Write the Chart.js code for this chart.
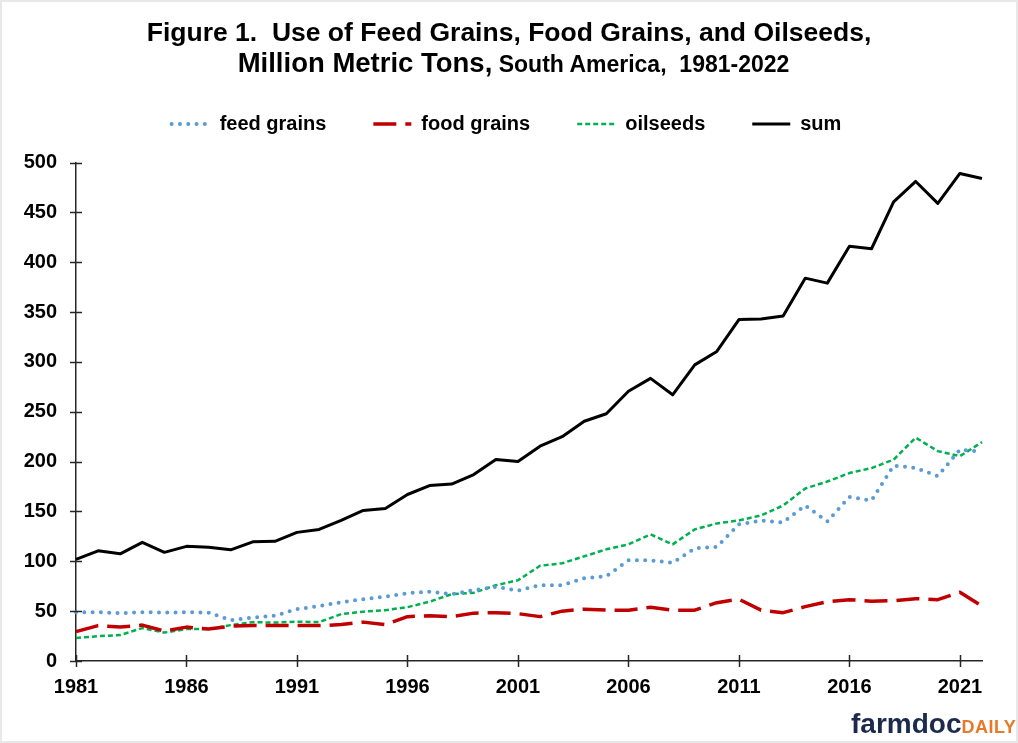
<!DOCTYPE html>
<html>
<head>
<meta charset="utf-8">
<title>Use of Feed Grains, Food Grains, and Oilseeds, South America, 1981-2022</title>
<script src="https://cdn.jsdelivr.net/npm/chart.js@4.4.1/dist/chart.umd.min.js"></script>
<style>
  html, body { margin: 0; padding: 0; background: #fff; }
  .figure {
    position: relative;
    width: 1018px;
    height: 743px;
    overflow: hidden;
    font-family: "Liberation Sans", Arial, sans-serif;
  }
  .figure canvas { position: absolute; left: 0; top: 0; }
  .frame {
    position: absolute;
    left: 0; top: 0; right: 0; bottom: 0;
    border: 2px solid #e8e8e8;
    pointer-events: none;
  }
  .title {
    position: absolute;
    top: 17px;
    left: 0;
    width: 1018px;
    text-align: center;
    font-weight: bold;
    color: #000;
  }
  .title .l1, .title .l2 { white-space: pre; }
  .title .l1 { font-size: 26.5px; line-height: 30px; }
  .title .l2 { line-height: 31px; padding-left: 9px; }
  .title .big { font-size: 27.5px; }
  .title .small { font-size: 23px; }
  .logo {
    position: absolute;
    left: 851px;
    top: 710px;
    line-height: 28px;
    font-weight: bold;
    white-space: nowrap;
  }
  .logo .farm { font-size: 28px; color: #1d2a4d; }
  .logo .daily { font-size: 18px; color: #e8782a; letter-spacing: 0.5px; }
</style>
</head>
<body>
<div class="figure">
  <canvas id="useChart" width="1018" height="743"></canvas>
  <div class="title">
    <div class="l1">Figure 1.  Use of Feed Grains, Food Grains, and Oilseeds,</div>
    <div class="l2"><span class="big">Million Metric Tons,</span><span class="small"> South America,  1981-2022</span></div>
  </div>
  <div class="logo"><span class="farm">farmdoc</span><span class="daily">DAILY</span></div>
  <div class="frame"></div>
</div>
<script>
// Marketing years, one point per year
const years = [
  1981, 1982, 1983, 1984, 1985, 1986, 1987, 1988, 1989, 1990,
  1991, 1992, 1993, 1994, 1995, 1996, 1997, 1998, 1999, 2000,
  2001, 2002, 2003, 2004, 2005, 2006, 2007, 2008, 2009, 2010,
  2011, 2012, 2013, 2014, 2015, 2016, 2017, 2018, 2019, 2020,
  2021, 2022
];

// Use, million metric tons
const feedGrains = [
  49, 49, 48, 49, 48.5, 49, 48.5, 41, 43.5, 45.5,
  52, 55, 59, 62, 64.5, 68, 69.5, 67, 71, 74.5,
  70.5, 76, 76, 83, 85, 101, 101, 98.5, 113, 114.5,
  137, 141, 139, 156, 140, 164.5, 161, 196, 193.5, 185.5,
  212, 210
];

const foodGrains = [
  29.5, 35.5, 34, 36, 30, 34, 32, 35, 35.5, 35.5,
  35.5, 35.5, 36.5, 39, 36.5, 44.5, 45.5, 44.5, 48, 48.5,
  47.5, 44.5, 50, 52, 51, 51, 54, 51, 51, 58.5,
  62, 51, 48.5, 54.5, 59.5, 61.5, 60, 60.5, 62.5, 61.5,
  69, 55
];

const oilseeds = [
  23, 25, 26, 33, 28.5, 32, 32, 36, 39, 38.5,
  39.5, 39, 47, 49.5, 51, 54, 59.5, 67, 68.5, 76,
  81, 95.5, 98, 105, 112, 117, 127, 117, 132, 138,
  141, 146, 156, 173, 180, 188.5, 193.5, 202, 224, 210.5,
  205.5, 219.5
];

const totalUse = [
  102, 110.5, 107.5, 119, 109, 115, 114, 111.5, 119.5, 120,
  129, 132, 141, 151, 153, 167, 176, 177.5, 187, 202,
  200, 215.5, 225, 240.5, 248, 270.5, 283.5, 267, 297, 310.5,
  342.5, 343, 346, 384, 379, 416, 413.5, 460.5, 481, 459,
  489, 484
];

const yTicks = [0, 50, 100, 150, 200, 250, 300, 350, 400, 450, 500];
const labelEvery = 5;

const axisColor = '#262626';
const fontFamily = '"Liberation Sans", Arial, sans-serif';

Chart.defaults.font.family = fontFamily;
Chart.defaults.color = '#000';

// Tick marks that straddle the axis line, only where a label is shown
const crossTicks = {
    id: 'crossTicks',
    afterDraw(chart) {
        const { ctx, chartArea, scales } = chart;
        const x = scales.x;
        const y = scales.y;
        ctx.save();
        ctx.strokeStyle = axisColor;
        ctx.lineWidth = 1.5;
        ctx.beginPath();
        x.ticks.forEach((tick, i) => {
            if (tick.label == null) return;
            const px = Math.round(x.getPixelForTick(i)) + 0.5;
            ctx.moveTo(px, chartArea.bottom - 6);
            ctx.lineTo(px, chartArea.bottom + 6);
        });
        y.ticks.forEach((tick, i) => {
            const py = Math.round(y.getPixelForTick(i)) + 0.5;
            ctx.moveTo(chartArea.left - 6, py);
            ctx.lineTo(chartArea.left + 6, py);
        });
        ctx.stroke();
        ctx.restore();
    }
};

// Legend row: extra room below it, and nudged right so it sits over the plot
const legendSpacing = {
    id: 'legendSpacing',
    beforeInit(chart) {
        const fit = chart.legend.fit;
        chart.legend.fit = function() {
            fit.call(this);
            this.height += 18.5;
        };
    },
    afterLayout(chart) {
        chart.legend.left += 31;
    }
};

// Legend samples take the dash, width and cap of each line
function lineLegendItems(chart) {
    return chart.data.datasets.map((ds, i) => ({
        text: ds.label,
        datasetIndex: i,
        fillStyle: ds.borderColor,
        strokeStyle: ds.borderColor,
        fontColor: '#000',
        lineWidth: ds.borderWidth,
        lineDash: ds.borderDash || [],
        lineCap: ds.borderCapStyle || 'butt',
        pointStyle: 'line',
        hidden: false
    }));
}

const ctx = document.getElementById('useChart').getContext('2d');

new Chart(ctx, {
    type: 'line',
    data: {
        labels: years,
        datasets: [
            {
                label: 'feed grains',
                data: feedGrains,
                borderColor: '#5B9BD5',
                borderWidth: 4,
                borderDash: [0, 8.3],
                borderCapStyle: 'round'
            },
            {
                label: 'food grains',
                data: foodGrains,
                borderColor: '#C00000',
                borderWidth: 3.5,
                borderDash: [23, 9]
            },
            {
                label: 'oilseeds',
                data: oilseeds,
                borderColor: '#00B050',
                borderWidth: 2.5,
                borderDash: [5, 3]
            },
            {
                label: 'sum',
                data: totalUse,
                borderColor: '#000',
                borderWidth: 3
            }
        ]
    },
    options: {
        responsive: false,
        animation: false,
        events: [],
        layout: {
            padding: { left: 0, right: 36, top: 67, bottom: 40 }
        },
        elements: {
            point: { radius: 0, hoverRadius: 0 },
            line: { tension: 0, borderJoinStyle: 'round', fill: false }
        },
        plugins: {
            legend: {
                position: 'top',
                labels: {
                    usePointStyle: true,
                    pointStyleWidth: 38,
                    padding: 47,
                    color: '#000',
                    font: { size: 20, weight: 'bold' },
                    generateLabels: lineLegendItems
                }
            },
            tooltip: { enabled: false }
        },
        scales: {
            x: {
                type: 'category',
                offset: false,
                grid: { display: false },
                border: { display: true, color: axisColor, width: 1.5 },
                ticks: {
                    autoSkip: false,
                    maxRotation: 0,
                    padding: 6,
                    color: '#000',
                    font: { size: 20, weight: 'bold' },
                    callback: function(value, index) {
                        const year = years[index];
                        return (year - years[0]) % labelEvery === 0 ? String(year) : null;
                    }
                },
                afterFit(scale) {
                    scale.height = 42;
                }
            },
            y: {
                min: yTicks[0],
                max: yTicks[yTicks.length - 1],
                grid: { display: false },
                border: { display: true, color: axisColor, width: 1.5 },
                ticks: {
                    stepSize: 50,
                    padding: 11,
                    color: '#000',
                    font: { size: 20, weight: 'bold' }
                },
                afterFit(scale) {
                    scale.width = 76;
                }
            }
        }
    },
    plugins: [crossTicks, legendSpacing]
});
</script>
</body>
</html>
